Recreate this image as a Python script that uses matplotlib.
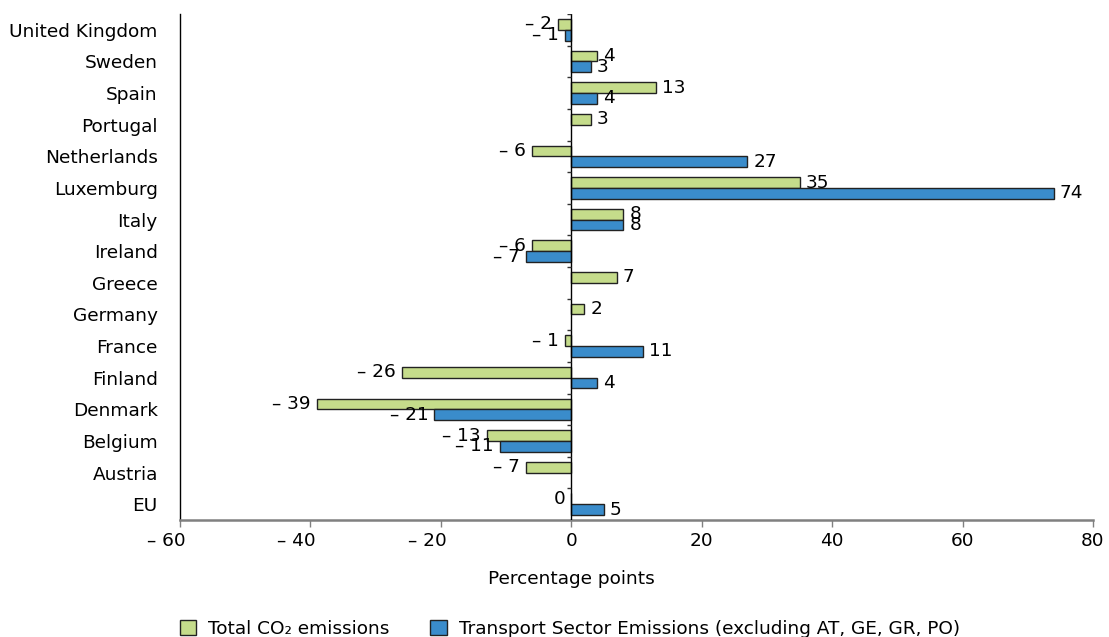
import numpy as np
import matplotlib
matplotlib.use("Agg")
import matplotlib.pyplot as plt
from matplotlib.transforms import blended_transform_factory

plt.rcParams['font.family'] = ['DejaVu Sans']
plt.rcParams['font.size'] = 13.3

# Change in emissions, percentage points (bottom to top)
countries = ["EU", "Austria", "Belgium", "Denmark", "Finland", "France",
             "Germany", "Greece", "Ireland", "Italy", "Luxemburg",
             "Netherlands", "Portugal", "Spain", "Sweden", "United Kingdom"]
total_co2 = [0, -7, -13, -39, -26, -1, 2, 7, -6, 8, 35, -6, 3, 13, 4, -2]
transport = [5, np.nan, -11, -21, 4, 11, np.nan, np.nan, -7, 8, 74, 27,
             np.nan, 4, 3, -1]
x_ticks = [-60, -40, -20, 0, 20, 40, 60, 80]

series_labels = ["Total CO\u2082 emissions",
                 "Transport Sector Emissions (excluding AT, GE, GR, PO)"]
green = "#C5DC8B"
blue = "#3A8CCB"
edge = "#222222"
FS = 13.3


def fmt(v):
    return "\u2013 %d" % abs(v) if v < 0 else "%d" % v


fig = plt.figure(figsize=(11.09, 6.37), dpi=100)
ax = fig.add_axes([180 / 1109, 1 - 520 / 637, 913 / 1109, 506 / 637])

y = np.arange(len(countries))
h = 0.34
b1 = ax.barh(y + h / 2, total_co2, height=h, color=green, edgecolor=edge,
             linewidth=1, label=series_labels[0], zorder=3)
b2 = ax.barh(y - h / 2, transport, height=h, color=blue, edgecolor=edge,
             linewidth=1, label=series_labels[1], zorder=3)

# value labels at bar ends
for ys, vals in ((y + h / 2, total_co2), (y - h / 2, transport)):
    for yy, v in zip(ys, vals):
        if np.isnan(v):
            continue
        if v > 0:
            ax.annotate(fmt(v), (v, yy), xytext=(6, 0), textcoords="offset pixels",
                        ha="left", va="center", fontsize=FS, zorder=4)
        else:
            ax.annotate(fmt(v), (v, yy), xytext=(-6, 0), textcoords="offset pixels",
                        ha="right", va="center", fontsize=FS, zorder=4)

ax.set_xlim(-60, 80)
ax.set_ylim(-0.5, 15.5)

# zero line with category separators
ax.axvline(0, color="black", linewidth=1, zorder=4)
bounds = np.arange(0.5, len(countries), 1.0)
ax.hlines(bounds, -0.6, 0, color="#333333", linewidth=1, zorder=4)

ax.set_yticks(y)
ax.set_yticklabels(countries)
ax.tick_params(axis="y", length=0, pad=16)

neg_pad = "\u2003\u2002"
ax.set_xticks(x_ticks)
ax.set_xticklabels([fmt(v) + neg_pad if v < 0 else fmt(v) for v in x_ticks])
ax.tick_params(axis="x", length=5, width=1, color="#808080", pad=4)

for s in ("top", "right"):
    ax.spines[s].set_visible(False)
ax.spines["left"].set_color("black")
ax.spines["left"].set_linewidth(1)
ax.spines["bottom"].set_color("#808080")
ax.spines["bottom"].set_linewidth(1.8)

trans = blended_transform_factory(ax.transData, ax.transAxes)
ax.text(0, (520 - 579) / 506, "Percentage points", transform=trans,
        ha="center", va="center", fontsize=FS)

fig.legend(handles=[b1, b2], labels=series_labels, loc="center",
           bbox_to_anchor=(570 / 1109, 1 - 629 / 637), ncol=2, frameon=False,
           handlelength=0.9, handleheight=0.9, handletextpad=0.65,
           columnspacing=2.2, fontsize=FS)

fig.savefig("out.png", dpi=100)
